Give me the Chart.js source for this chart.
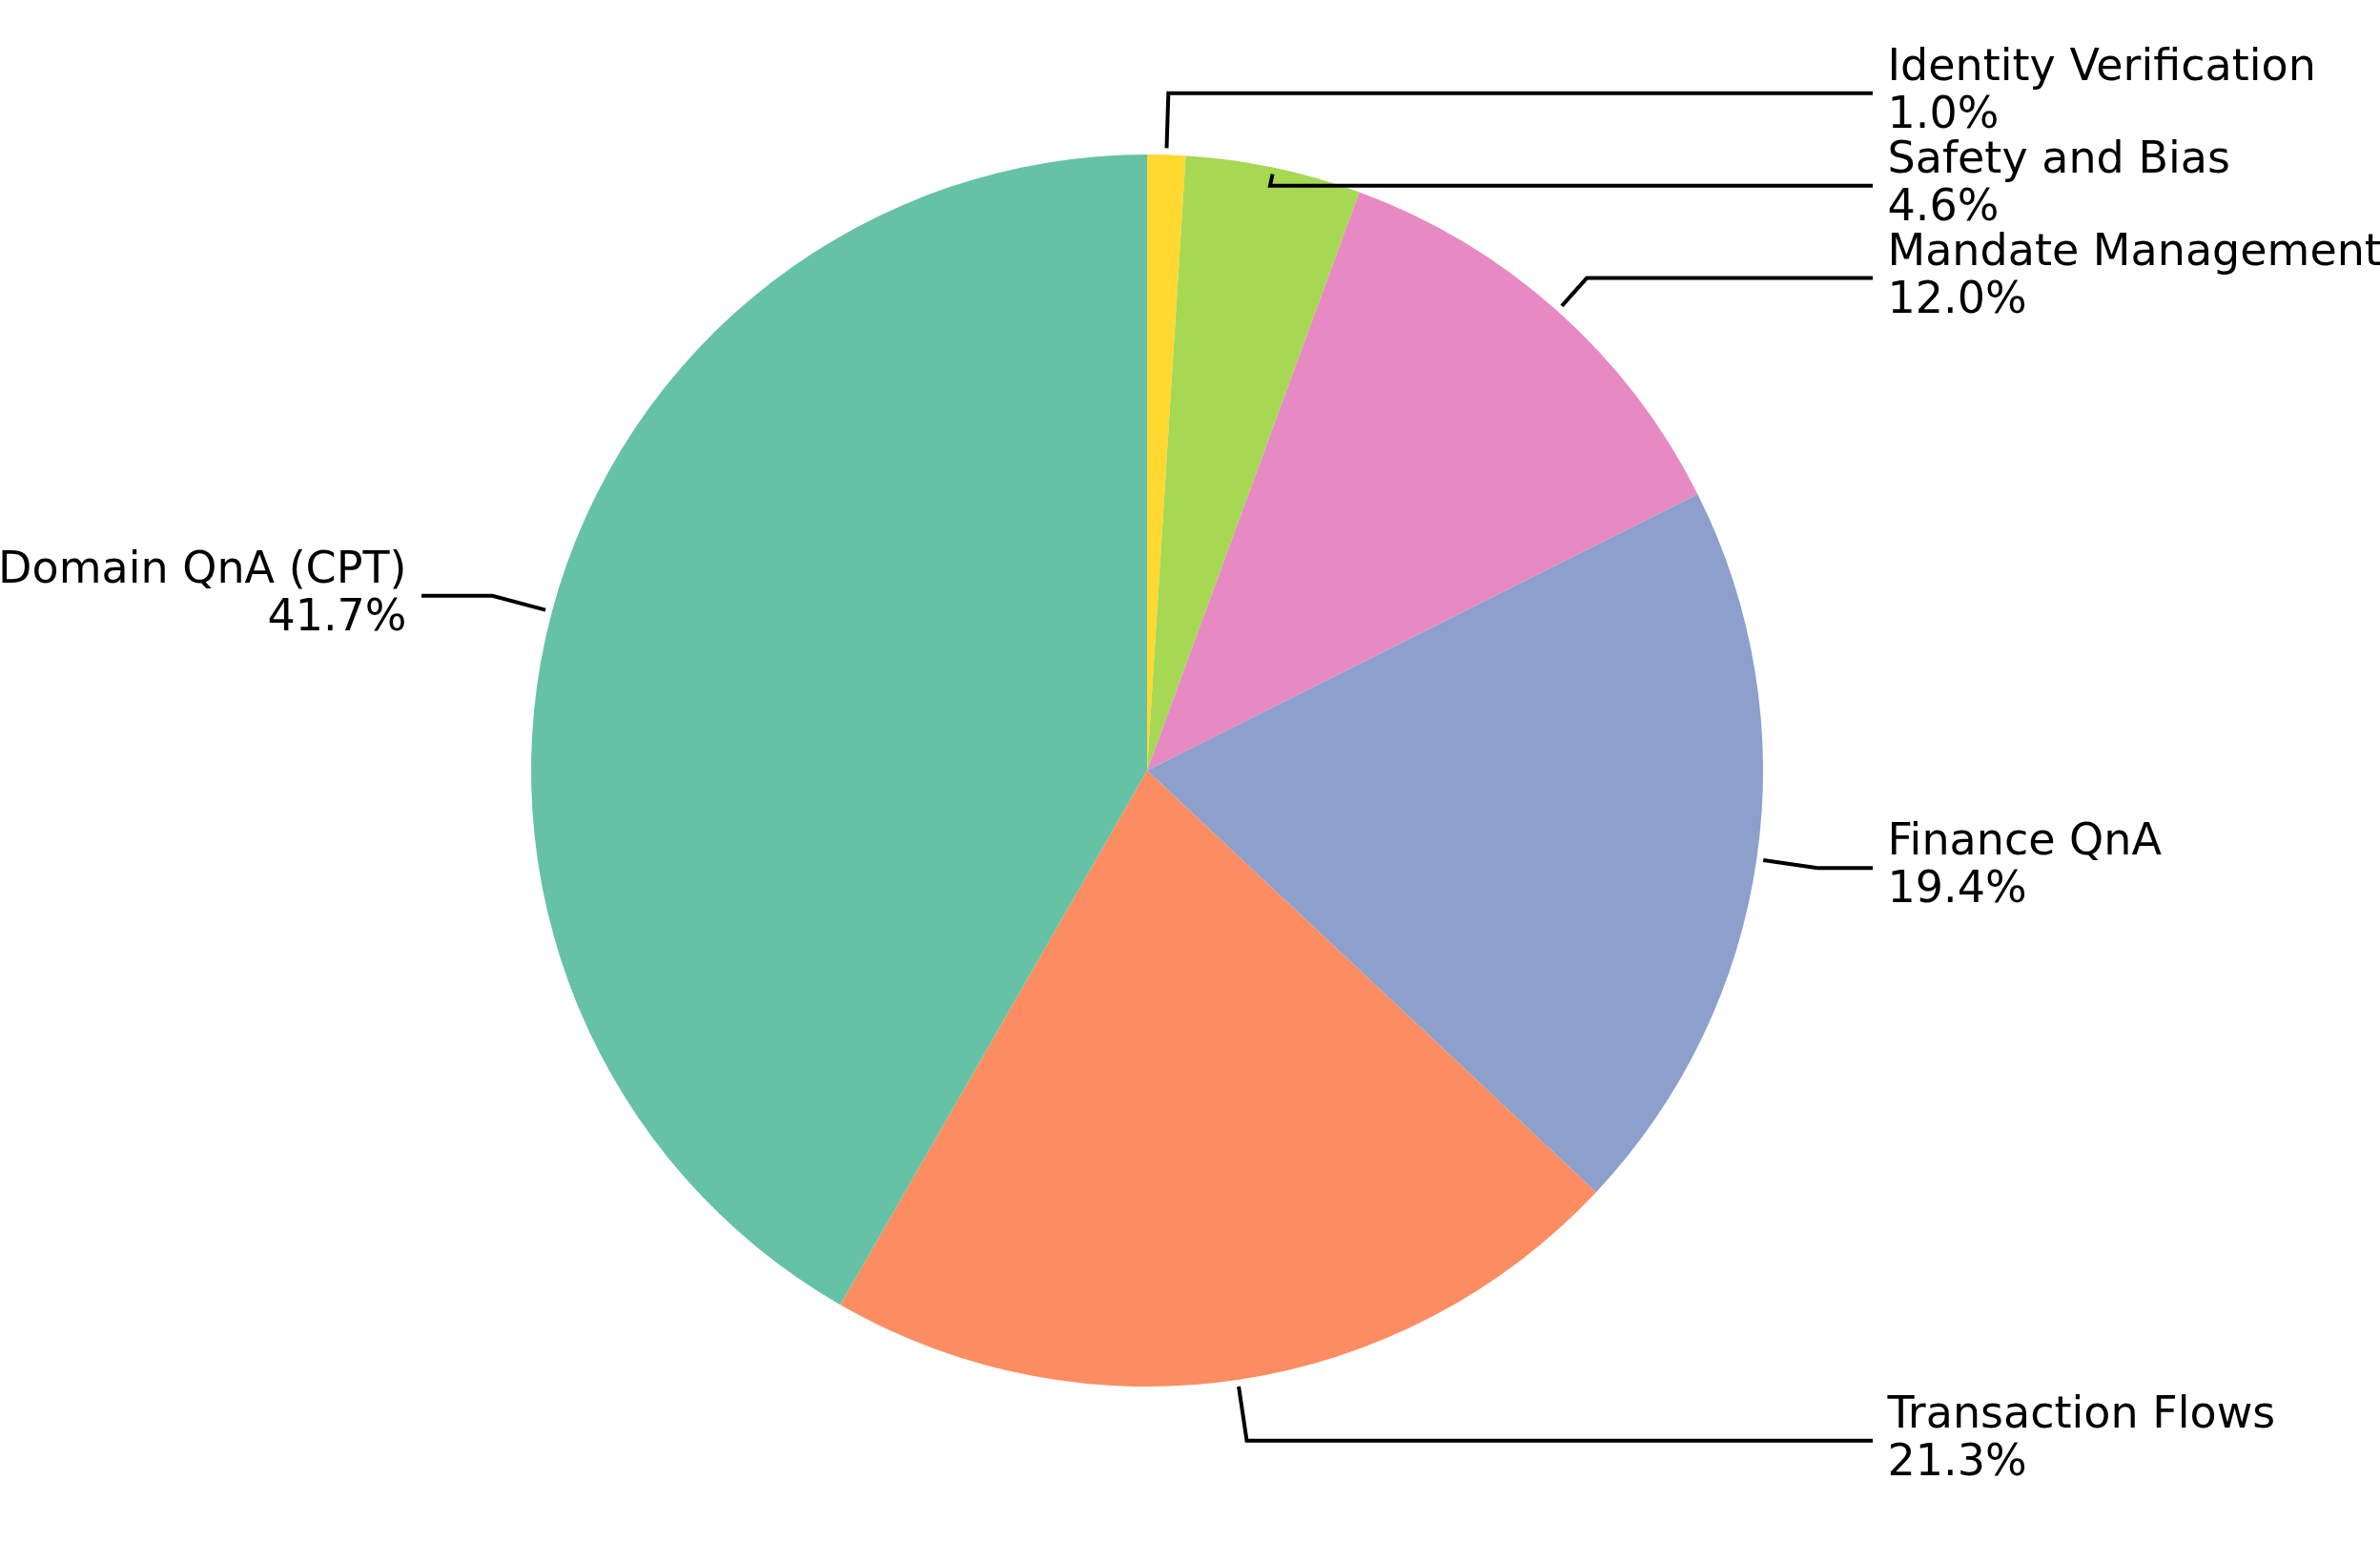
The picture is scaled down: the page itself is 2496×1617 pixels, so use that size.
<!DOCTYPE html>
<html>
<head>
<meta charset="utf-8">
<script src="https://cdn.jsdelivr.net/npm/chart.js@4/dist/chart.umd.min.js"></script>
<style>
  html, body { margin: 0; padding: 0; background: #ffffff; }
  #wrap { width: 2496px; height: 1617px; }
</style>
</head>
<body>
<div id="wrap"><canvas id="c" width="2496" height="1617"></canvas></div>
<script>
const categories = ['Identity Verification', 'Safety and Bias', 'Mandate Management', 'Finance QnA', 'Transaction Flows', 'Domain QnA (CPT)'];
const shares = [1.0, 4.6, 12.0, 19.4, 21.3, 41.7];
const sliceColors = ['#ffd92f', '#a6d854', '#e78ac3', '#8da0cb', '#fc8d62', '#66c2a5'];

const FONT = '46px "DejaVu Sans"';

const leaderPlugin = {
  id: 'leaders',
  afterDatasetsDraw(chart) {
    const ctx = chart.ctx;
    const meta = chart.getDatasetMeta(0);
    const data = chart.data.datasets[0].data;
    const total = data.reduce((a, b) => a + b, 0);
    const items = meta.data.map((arc, i) => {
      const p = arc.getProps(['x', 'y', 'startAngle', 'endAngle', 'outerRadius'], true);
      const mid = (p.startAngle + p.endAngle) / 2;
      const c = Math.cos(mid), s = Math.sin(mid);
      return { i, cx: p.x, cy: p.y, R: p.outerRadius, c, s, yu: -s, ty: -1.1 * s };
    });
    // overlap avoidance per side, top to bottom
    [1, -1].forEach(side => {
      const group = items.filter(it => Math.sign(it.c) === side || (it.c === 0 && side === 1))
        .sort((a, b) => b.ty - a.ty);
      for (let k = 1; k < group.length; k++) {
        if (group[k].ty > group[k - 1].ty - 0.15) group[k].ty = group[k - 1].ty - 0.15;
      }
    });
    ctx.save();
    ctx.strokeStyle = '#000000';
    ctx.lineWidth = 4;
    ctx.lineJoin = 'miter';
    ctx.fillStyle = '#000000';
    ctx.font = FONT;
    items.forEach(it => {
      const { cx, cy, R, c, s } = it;
      const side = c >= 0 ? 1 : -1;
      const px = cx + R * c, py = cy + R * s;
      const ly = cy - it.ty * R;
      const rb = it.ty / it.yu;
      const bx = cx + rb * R * c, by = ly;
      let dx = bx - px, dy = by - py;
      const d = Math.hypot(dx, dy) || 1;
      const sx = px + dx / d * 7, sy = py + dy / d * 7;
      const ex = cx + side * 1.178 * R;
      ctx.beginPath();
      ctx.moveTo(sx, sy);
      ctx.lineTo(bx, by);
      ctx.lineTo(ex, ly);
      ctx.stroke();
      const tx = cx + side * 1.202 * R;
      ctx.textAlign = side > 0 ? 'left' : 'right';
      ctx.textBaseline = 'alphabetic';
      const pct = (data[it.i] / total * 100).toFixed(1) + '%';
      ctx.fillText(chart.data.labels[it.i], tx, ly - 14);
      ctx.fillText(pct, tx, ly + 36);
    });
    ctx.restore();
  }
};

new Chart(document.getElementById('c'), {
  type: 'pie',
  data: {
    labels: categories,
    datasets: [{
      data: shares,
      backgroundColor: sliceColors,
      borderWidth: 0
    }]
  },
  options: {
    responsive: false,
    animation: false,
    devicePixelRatio: 1,
    layout: { padding: { left: 557, right: 647, top: 162, bottom: 163 } },
    plugins: {
      legend: { display: false },
      tooltip: { enabled: false }
    }
  },
  plugins: [leaderPlugin]
});
</script>
</body>
</html>
